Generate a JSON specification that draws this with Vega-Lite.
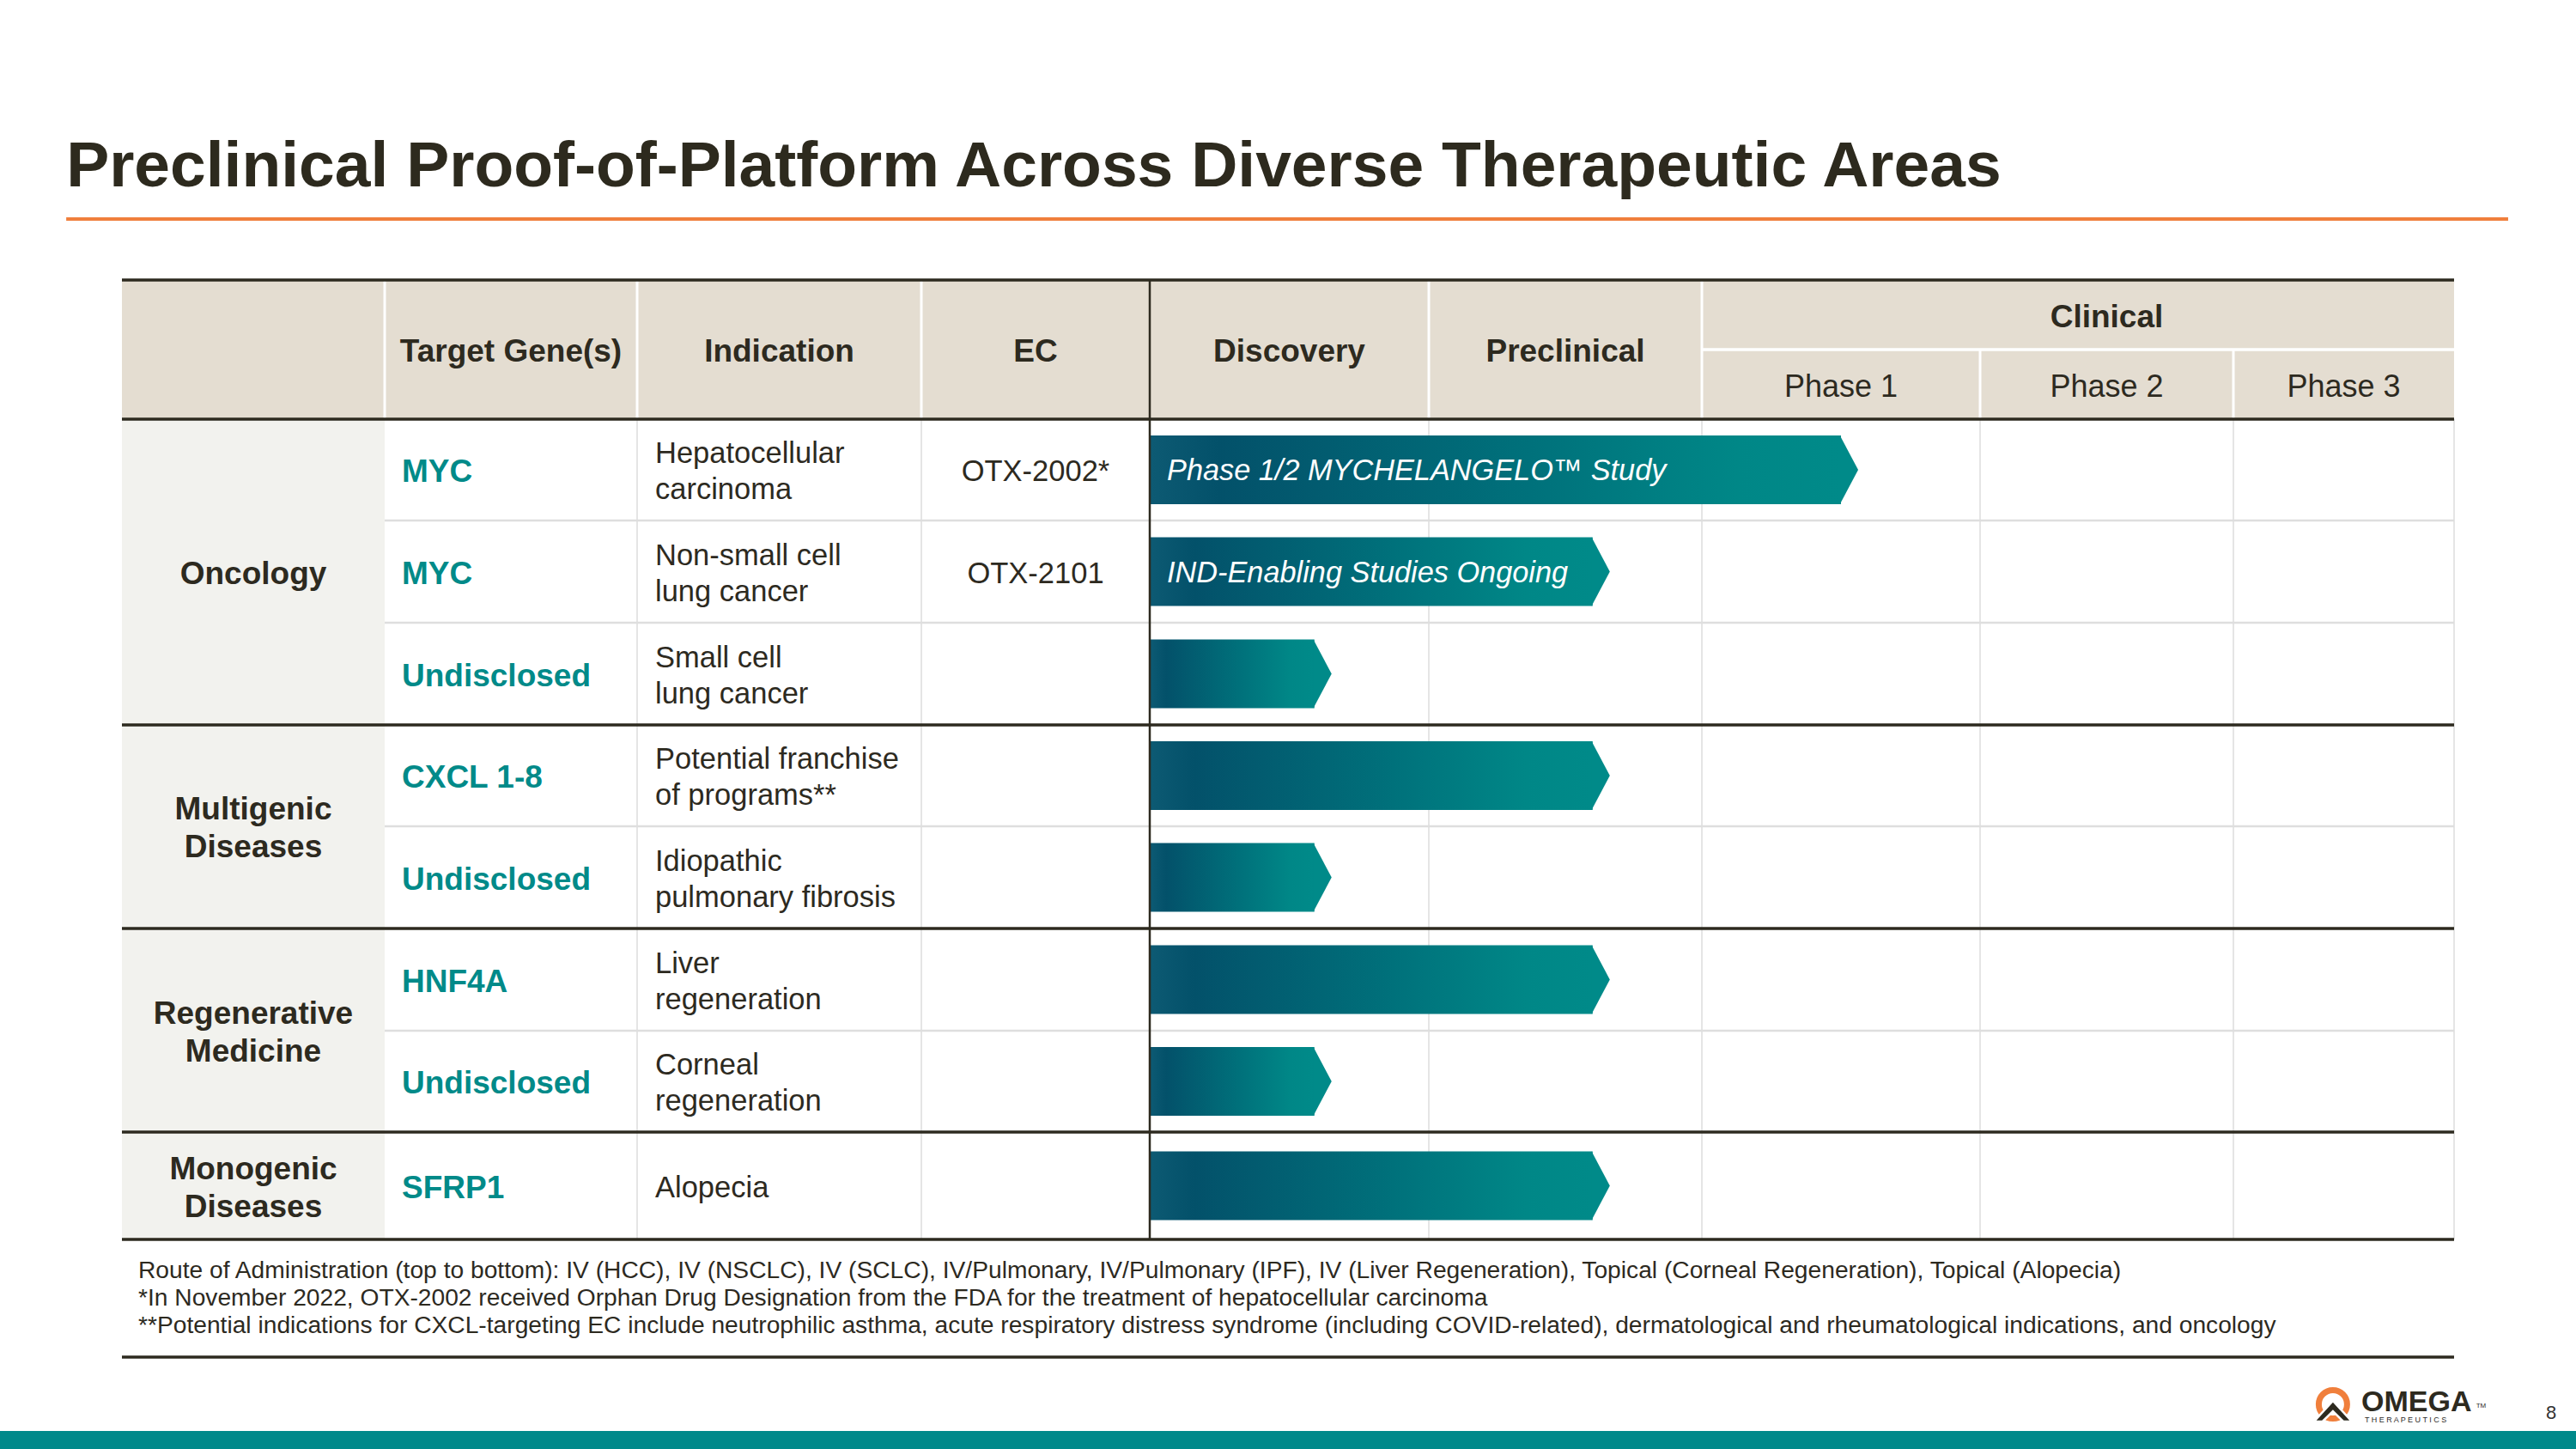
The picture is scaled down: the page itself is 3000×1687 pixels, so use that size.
{
  "$schema": "https://vega.github.io/schema/vega-lite/v6.json",
  "width": 3000,
  "height": 1687,
  "autosize": {"type": "none"},
  "padding": 0,
  "background": "#ffffff",
  "config": {"view": {"stroke": null}, "font": "Liberation Sans"},
  "datasets": {
    "programs": [
      {"row": 1, "gene": "MYC", "indication": "Hepatocellular\ncarcinoma", "ec": "OTX-2002*", "start": 0, "progress": 2.5, "status": "Phase 1/2 MYCHELANGELO™ Study"},
      {"row": 2, "gene": "MYC", "indication": "Non-small cell\nlung cancer", "ec": "OTX-2101", "start": 0, "progress": 1.6, "status": "IND-Enabling Studies Ongoing"},
      {"row": 3, "gene": "Undisclosed", "indication": "Small cell\nlung cancer", "ec": "", "start": 0, "progress": 0.59, "status": ""},
      {"row": 4, "gene": "CXCL 1-8", "indication": "Potential franchise\nof programs**", "ec": "", "start": 0, "progress": 1.6, "status": ""},
      {"row": 5, "gene": "Undisclosed", "indication": "Idiopathic\npulmonary fibrosis", "ec": "", "start": 0, "progress": 0.59, "status": ""},
      {"row": 6, "gene": "HNF4A", "indication": "Liver\nregeneration", "ec": "", "start": 0, "progress": 1.6, "status": ""},
      {"row": 7, "gene": "Undisclosed", "indication": "Corneal\nregeneration", "ec": "", "start": 0, "progress": 0.59, "status": ""},
      {"row": 8, "gene": "SFRP1", "indication": "Alopecia", "ec": "", "start": 0, "progress": 1.6, "status": ""}
    ],
    "areas": [
      {"area": "Oncology", "c": -3.5, "center": 2},
      {"area": "Multigenic\nDiseases", "c": -3.5, "center": 4.5},
      {"area": "Regenerative\nMedicine", "c": -3.5, "center": 6.5},
      {"area": "Monogenic\nDiseases", "c": -3.5, "center": 8}
    ],
    "headBold": [
      {"label": "Target Gene(s)", "c": -2.5, "r": 0},
      {"label": "Indication", "c": -1.5, "r": 0},
      {"label": "EC", "c": -0.5, "r": 0},
      {"label": "Discovery", "c": 0.5, "r": 0},
      {"label": "Preclinical", "c": 1.5, "r": 0},
      {"label": "Clinical", "c": 3.5, "r": -0.25}
    ],
    "headPhase": [
      {"label": "Phase 1", "c": 2.5, "r": 0.25},
      {"label": "Phase 2", "c": 3.5, "r": 0.25},
      {"label": "Phase 3", "c": 4.5, "r": 0.25}
    ],
    "headerBg": [{"c": -4, "c2": 5, "r": -0.5, "r2": 0.5}],
    "areaBg": [{"c": -4, "c2": -3, "r": 0.5, "r2": 8.5}],
    "lightV": [
      {"c": -2, "r": 0.5, "r2": 8.5}, {"c": -1, "r": 0.5, "r2": 8.5},
      {"c": 1, "r": 0.5, "r2": 8.5}, {"c": 2, "r": 0.5, "r2": 8.5},
      {"c": 3, "r": 0.5, "r2": 8.5}, {"c": 4, "r": 0.5, "r2": 8.5},
      {"c": 5, "r": 0.5, "r2": 8.5}
    ],
    "lightH": [
      {"r": 1.5, "c": -3, "c2": 5}, {"r": 2.5, "c": -3, "c2": 5},
      {"r": 4.5, "c": -3, "c2": 5}, {"r": 6.5, "c": -3, "c2": 5}
    ],
    "whiteV": [
      {"c": -3, "r": -0.5, "r2": 0.5}, {"c": -2, "r": -0.5, "r2": 0.5},
      {"c": -1, "r": -0.5, "r2": 0.5}, {"c": 1, "r": -0.5, "r2": 0.5},
      {"c": 2, "r": -0.5, "r2": 0.5}, {"c": 3, "r": 0, "r2": 0.5},
      {"c": 4, "r": 0, "r2": 0.5}
    ],
    "whiteH": [{"r": 0, "c": 2, "c2": 5}],
    "darkH": [
      {"r": -0.5, "c": -4, "c2": 5}, {"r": 0.5, "c": -4, "c2": 5},
      {"r": 3.5, "c": -4, "c2": 5}, {"r": 5.5, "c": -4, "c2": 5},
      {"r": 7.5, "c": -4, "c2": 5}, {"r": 8.5, "c": -4, "c2": 5},
      {"r": 9.596, "c": -4, "c2": 5}
    ],
    "darkV": [{"c": 0, "r": -0.5, "r2": 8.5}],
    "title": [{"text": "Preclinical Proof-of-Platform Across Diverse Therapeutic Areas", "c": -4.212, "r": -1.173}],
    "titleRule": [{"c": -4.212, "c2": 5.245, "r": -0.938}],
    "notes": [
      {"text": "Route of Administration (top to bottom): IV (HCC), IV (NSCLC), IV (SCLC), IV/Pulmonary, IV/Pulmonary (IPF), IV (Liver Regeneration), Topical (Corneal Regeneration), Topical (Alopecia)", "c": -3.938, "r": 8.86},
      {"text": "*In November 2022, OTX-2002 received Orphan Drug Designation from the FDA for the treatment of hepatocellular carcinoma", "c": -3.938, "r": 9.116},
      {"text": "**Potential indications for CXCL-targeting EC include neutrophilic asthma, acute respiratory distress syndrome (including COVID-related), dermatological and rheumatological indications, and oncology", "c": -3.938, "r": 9.372}
    ],
    "footerBar": [{"c": -4.6, "c2": 5.7, "r": 10.284, "r2": 10.7}],
    "logoRing": [{"c": 4.451, "r": 10.036}],
    "logoMark": [{"c": 4.451, "r": 10.044}],
    "logoWord": [{"text": "OMEGA", "c": 4.58, "r": 10.1}],
    "logoSub": [{"text": "T  H  E  R  A  P  E  U  T  I  C  S", "c": 4.595, "r": 10.204}],
    "logoTm": [{"text": "TM", "c": 5.1, "r": 10.02}],
    "page": [{"text": "8", "c": 5.44, "r": 10.172}]
  },
  "layer": [
    {
      "data": {"name": "headerBg"},
      "mark": {"type": "rect", "fill": "#e4ddd1"},
      "encoding": {
        "x": {"field": "c", "type": "quantitative", "axis": null, "scale": {"domain": [-4,-3,-2,-1,0,1,2,3,4,5], "range": [142,448,742,1073,1339,1664,1982,2306,2601,2858], "nice": false, "zero": false}},
        "x2": {"field": "c2"},
        "y": {"field": "r", "type": "quantitative", "axis": null, "scale": {"domain": [-0.5,0.5,1.5,2.5,3.5,4.5,5.5,6.5,7.5,8.5], "range": [326,488,606,725,844,962,1081,1200,1318,1443], "nice": false, "zero": false}},
        "y2": {"field": "r2"}
      }
    },
    {
      "data": {"name": "areaBg"},
      "mark": {"type": "rect", "fill": "#f2f2ee"},
      "encoding": {
        "x": {"field": "c", "type": "quantitative", "axis": null, "scale": {"domain": [-4,-3,-2,-1,0,1,2,3,4,5], "range": [142,448,742,1073,1339,1664,1982,2306,2601,2858], "nice": false, "zero": false}},
        "x2": {"field": "c2"},
        "y": {"field": "r", "type": "quantitative", "axis": null, "scale": {"domain": [-0.5,0.5,1.5,2.5,3.5,4.5,5.5,6.5,7.5,8.5], "range": [326,488,606,725,844,962,1081,1200,1318,1443], "nice": false, "zero": false}},
        "y2": {"field": "r2"}
      }
    },
    {
      "data": {"name": "lightV"},
      "mark": {"type": "rule", "stroke": "#dcdcdc", "strokeWidth": 1.5},
      "encoding": {
        "x": {"field": "c", "type": "quantitative", "axis": null, "scale": {"domain": [-4,-3,-2,-1,0,1,2,3,4,5], "range": [142,448,742,1073,1339,1664,1982,2306,2601,2858], "nice": false, "zero": false}},
        "y": {"field": "r", "type": "quantitative", "axis": null, "scale": {"domain": [-0.5,0.5,1.5,2.5,3.5,4.5,5.5,6.5,7.5,8.5], "range": [326,488,606,725,844,962,1081,1200,1318,1443], "nice": false, "zero": false}},
        "y2": {"field": "r2"}
      }
    },
    {
      "data": {"name": "lightH"},
      "mark": {"type": "rule", "stroke": "#dedede", "strokeWidth": 2.5},
      "encoding": {
        "x": {"field": "c", "type": "quantitative", "axis": null, "scale": {"domain": [-4,-3,-2,-1,0,1,2,3,4,5], "range": [142,448,742,1073,1339,1664,1982,2306,2601,2858], "nice": false, "zero": false}},
        "x2": {"field": "c2"},
        "y": {"field": "r", "type": "quantitative", "axis": null, "scale": {"domain": [-0.5,0.5,1.5,2.5,3.5,4.5,5.5,6.5,7.5,8.5], "range": [326,488,606,725,844,962,1081,1200,1318,1443], "nice": false, "zero": false}}
      }
    },
    {
      "data": {"name": "whiteV"},
      "mark": {"type": "rule", "stroke": "#ffffff", "strokeWidth": 3},
      "encoding": {
        "x": {"field": "c", "type": "quantitative", "axis": null, "scale": {"domain": [-4,-3,-2,-1,0,1,2,3,4,5], "range": [142,448,742,1073,1339,1664,1982,2306,2601,2858], "nice": false, "zero": false}},
        "y": {"field": "r", "type": "quantitative", "axis": null, "scale": {"domain": [-0.5,0.5,1.5,2.5,3.5,4.5,5.5,6.5,7.5,8.5], "range": [326,488,606,725,844,962,1081,1200,1318,1443], "nice": false, "zero": false}},
        "y2": {"field": "r2"}
      }
    },
    {
      "data": {"name": "whiteH"},
      "mark": {"type": "rule", "stroke": "#ffffff", "strokeWidth": 3.5},
      "encoding": {
        "x": {"field": "c", "type": "quantitative", "axis": null, "scale": {"domain": [-4,-3,-2,-1,0,1,2,3,4,5], "range": [142,448,742,1073,1339,1664,1982,2306,2601,2858], "nice": false, "zero": false}},
        "x2": {"field": "c2"},
        "y": {"field": "r", "type": "quantitative", "axis": null, "scale": {"domain": [-0.5,0.5,1.5,2.5,3.5,4.5,5.5,6.5,7.5,8.5], "range": [326,488,606,725,844,962,1081,1200,1318,1443], "nice": false, "zero": false}}
      }
    },
    {
      "data": {"name": "programs"},
      "mark": {"type": "rect", "yOffset": -40, "y2Offset": 40, "fill": {"gradient": "linear", "x1": 0, "y1": 0, "x2": 1, "y2": 0, "stops": [{"offset": 0, "color": "#0d5a73"}, {"offset": 0.1, "color": "#03516a"}, {"offset": 0.55, "color": "#00717b"}, {"offset": 0.85, "color": "#008787"}, {"offset": 1, "color": "#008a89"}]}},
      "encoding": {
        "x": {"field": "start", "type": "quantitative", "axis": null, "scale": {"domain": [-4,-3,-2,-1,0,1,2,3,4,5], "range": [142,448,742,1073,1339,1664,1982,2306,2601,2858], "nice": false, "zero": false}},
        "x2": {"field": "progress"},
        "y": {"field": "row", "type": "quantitative", "axis": null, "scale": {"domain": [-0.5,0.5,1.5,2.5,3.5,4.5,5.5,6.5,7.5,8.5], "range": [326,488,606,725,844,962,1081,1200,1318,1443], "nice": false, "zero": false}},
        "y2": {"field": "row"}
      }
    },
    {
      "data": {"name": "programs"},
      "mark": {"type": "point", "shape": "M-0.03,-1L0.5,0L-0.03,1Z", "size": 6400, "filled": true, "fill": "#008a89", "opacity": 1, "strokeWidth": 0},
      "encoding": {
        "x": {"field": "progress", "type": "quantitative", "axis": null, "scale": {"domain": [-4,-3,-2,-1,0,1,2,3,4,5], "range": [142,448,742,1073,1339,1664,1982,2306,2601,2858], "nice": false, "zero": false}},
        "y": {"field": "row", "type": "quantitative", "axis": null, "scale": {"domain": [-0.5,0.5,1.5,2.5,3.5,4.5,5.5,6.5,7.5,8.5], "range": [326,488,606,725,844,962,1081,1200,1318,1443], "nice": false, "zero": false}}
      }
    },
    {
      "data": {"name": "darkH"},
      "mark": {"type": "rule", "stroke": "#2d2a1f", "strokeWidth": 3.5},
      "encoding": {
        "x": {"field": "c", "type": "quantitative", "axis": null, "scale": {"domain": [-4,-3,-2,-1,0,1,2,3,4,5], "range": [142,448,742,1073,1339,1664,1982,2306,2601,2858], "nice": false, "zero": false}},
        "x2": {"field": "c2"},
        "y": {"field": "r", "type": "quantitative", "axis": null, "scale": {"domain": [-0.5,0.5,1.5,2.5,3.5,4.5,5.5,6.5,7.5,8.5], "range": [326,488,606,725,844,962,1081,1200,1318,1443], "nice": false, "zero": false}}
      }
    },
    {
      "data": {"name": "darkV"},
      "mark": {"type": "rule", "stroke": "#2d2a1f", "strokeWidth": 2.5},
      "encoding": {
        "x": {"field": "c", "type": "quantitative", "axis": null, "scale": {"domain": [-4,-3,-2,-1,0,1,2,3,4,5], "range": [142,448,742,1073,1339,1664,1982,2306,2601,2858], "nice": false, "zero": false}},
        "y": {"field": "r", "type": "quantitative", "axis": null, "scale": {"domain": [-0.5,0.5,1.5,2.5,3.5,4.5,5.5,6.5,7.5,8.5], "range": [326,488,606,725,844,962,1081,1200,1318,1443], "nice": false, "zero": false}},
        "y2": {"field": "r2"}
      }
    },
    {
      "data": {"name": "areas"},
      "transform": [{"filter": "indexof(datum.area, '\\n') < 0"}],
      "mark": {"type": "text", "font": "Liberation Sans", "fontWeight": "bold", "fontSize": 37, "color": "#2d2a1f", "align": "center", "baseline": "middle", "dy": 3},
      "encoding": {
        "x": {"field": "c", "type": "quantitative", "axis": null, "scale": {"domain": [-4,-3,-2,-1,0,1,2,3,4,5], "range": [142,448,742,1073,1339,1664,1982,2306,2601,2858], "nice": false, "zero": false}},
        "y": {"field": "center", "type": "quantitative", "axis": null, "scale": {"domain": [-0.5,0.5,1.5,2.5,3.5,4.5,5.5,6.5,7.5,8.5], "range": [326,488,606,725,844,962,1081,1200,1318,1443], "nice": false, "zero": false}},
        "text": {"field": "area", "type": "nominal"}
      }
    },
    {
      "data": {"name": "areas"},
      "transform": [{"filter": "indexof(datum.area, '\\n') >= 0"}],
      "mark": {"type": "text", "font": "Liberation Sans", "fontWeight": "bold", "fontSize": 37, "color": "#2d2a1f", "align": "center", "baseline": "middle", "lineBreak": "\n", "lineHeight": 44, "dy": -19},
      "encoding": {
        "x": {"field": "c", "type": "quantitative", "axis": null, "scale": {"domain": [-4,-3,-2,-1,0,1,2,3,4,5], "range": [142,448,742,1073,1339,1664,1982,2306,2601,2858], "nice": false, "zero": false}},
        "y": {"field": "center", "type": "quantitative", "axis": null, "scale": {"domain": [-0.5,0.5,1.5,2.5,3.5,4.5,5.5,6.5,7.5,8.5], "range": [326,488,606,725,844,962,1081,1200,1318,1443], "nice": false, "zero": false}},
        "text": {"field": "area", "type": "nominal"}
      }
    },
    {
      "data": {"name": "programs"},
      "transform": [{"calculate": "-3", "as": "geneCol"}],
      "mark": {"type": "text", "font": "Liberation Sans", "fontWeight": "bold", "fontSize": 37, "color": "#008a89", "align": "left", "baseline": "middle", "dx": 20, "dy": 3},
      "encoding": {
        "x": {"field": "geneCol", "type": "quantitative", "axis": null, "scale": {"domain": [-4,-3,-2,-1,0,1,2,3,4,5], "range": [142,448,742,1073,1339,1664,1982,2306,2601,2858], "nice": false, "zero": false}},
        "y": {"field": "row", "type": "quantitative", "axis": null, "scale": {"domain": [-0.5,0.5,1.5,2.5,3.5,4.5,5.5,6.5,7.5,8.5], "range": [326,488,606,725,844,962,1081,1200,1318,1443], "nice": false, "zero": false}},
        "text": {"field": "gene", "type": "nominal"}
      }
    },
    {
      "data": {"name": "programs"},
      "transform": [{"filter": "indexof(datum.indication, '\\n') >= 0"}, {"calculate": "-2", "as": "indCol"}],
      "mark": {"type": "text", "font": "Liberation Sans", "fontSize": 34.5, "color": "#2d2a1f", "align": "left", "baseline": "middle", "dx": 21, "dy": -18, "lineBreak": "\n", "lineHeight": 42},
      "encoding": {
        "x": {"field": "indCol", "type": "quantitative", "axis": null, "scale": {"domain": [-4,-3,-2,-1,0,1,2,3,4,5], "range": [142,448,742,1073,1339,1664,1982,2306,2601,2858], "nice": false, "zero": false}},
        "y": {"field": "row", "type": "quantitative", "axis": null, "scale": {"domain": [-0.5,0.5,1.5,2.5,3.5,4.5,5.5,6.5,7.5,8.5], "range": [326,488,606,725,844,962,1081,1200,1318,1443], "nice": false, "zero": false}},
        "text": {"field": "indication", "type": "nominal"}
      }
    },
    {
      "data": {"name": "programs"},
      "transform": [{"filter": "indexof(datum.indication, '\\n') < 0"}, {"calculate": "-2", "as": "indCol"}],
      "mark": {"type": "text", "font": "Liberation Sans", "fontSize": 34.5, "color": "#2d2a1f", "align": "left", "baseline": "middle", "dx": 21, "dy": 3},
      "encoding": {
        "x": {"field": "indCol", "type": "quantitative", "axis": null, "scale": {"domain": [-4,-3,-2,-1,0,1,2,3,4,5], "range": [142,448,742,1073,1339,1664,1982,2306,2601,2858], "nice": false, "zero": false}},
        "y": {"field": "row", "type": "quantitative", "axis": null, "scale": {"domain": [-0.5,0.5,1.5,2.5,3.5,4.5,5.5,6.5,7.5,8.5], "range": [326,488,606,725,844,962,1081,1200,1318,1443], "nice": false, "zero": false}},
        "text": {"field": "indication", "type": "nominal"}
      }
    },
    {
      "data": {"name": "programs"},
      "transform": [{"calculate": "-0.5", "as": "ecCol"}],
      "mark": {"type": "text", "font": "Liberation Sans", "fontSize": 34.5, "color": "#2d2a1f", "align": "center", "baseline": "middle", "dy": 3},
      "encoding": {
        "x": {"field": "ecCol", "type": "quantitative", "axis": null, "scale": {"domain": [-4,-3,-2,-1,0,1,2,3,4,5], "range": [142,448,742,1073,1339,1664,1982,2306,2601,2858], "nice": false, "zero": false}},
        "y": {"field": "row", "type": "quantitative", "axis": null, "scale": {"domain": [-0.5,0.5,1.5,2.5,3.5,4.5,5.5,6.5,7.5,8.5], "range": [326,488,606,725,844,962,1081,1200,1318,1443], "nice": false, "zero": false}},
        "text": {"field": "ec", "type": "nominal"}
      }
    },
    {
      "data": {"name": "programs"},
      "mark": {"type": "text", "font": "Liberation Sans", "fontStyle": "italic", "fontSize": 34.3, "color": "#ffffff", "align": "left", "baseline": "middle", "dx": 20, "dy": 2},
      "encoding": {
        "x": {"field": "start", "type": "quantitative", "axis": null, "scale": {"domain": [-4,-3,-2,-1,0,1,2,3,4,5], "range": [142,448,742,1073,1339,1664,1982,2306,2601,2858], "nice": false, "zero": false}},
        "y": {"field": "row", "type": "quantitative", "axis": null, "scale": {"domain": [-0.5,0.5,1.5,2.5,3.5,4.5,5.5,6.5,7.5,8.5], "range": [326,488,606,725,844,962,1081,1200,1318,1443], "nice": false, "zero": false}},
        "text": {"field": "status", "type": "nominal"}
      }
    },
    {
      "data": {"name": "headBold"},
      "mark": {"type": "text", "font": "Liberation Sans", "fontWeight": "bold", "fontSize": 37, "color": "#2d2a1f", "align": "center", "baseline": "middle", "dy": 3},
      "encoding": {
        "x": {"field": "c", "type": "quantitative", "axis": null, "scale": {"domain": [-4,-3,-2,-1,0,1,2,3,4,5], "range": [142,448,742,1073,1339,1664,1982,2306,2601,2858], "nice": false, "zero": false}},
        "y": {"field": "r", "type": "quantitative", "axis": null, "scale": {"domain": [-0.5,0.5,1.5,2.5,3.5,4.5,5.5,6.5,7.5,8.5], "range": [326,488,606,725,844,962,1081,1200,1318,1443], "nice": false, "zero": false}},
        "text": {"field": "label", "type": "nominal"}
      }
    },
    {
      "data": {"name": "headPhase"},
      "mark": {"type": "text", "font": "Liberation Sans", "fontSize": 36, "color": "#2d2a1f", "align": "center", "baseline": "middle", "dy": 3},
      "encoding": {
        "x": {"field": "c", "type": "quantitative", "axis": null, "scale": {"domain": [-4,-3,-2,-1,0,1,2,3,4,5], "range": [142,448,742,1073,1339,1664,1982,2306,2601,2858], "nice": false, "zero": false}},
        "y": {"field": "r", "type": "quantitative", "axis": null, "scale": {"domain": [-0.5,0.5,1.5,2.5,3.5,4.5,5.5,6.5,7.5,8.5], "range": [326,488,606,725,844,962,1081,1200,1318,1443], "nice": false, "zero": false}},
        "text": {"field": "label", "type": "nominal"}
      }
    },
    {
      "data": {"name": "title"},
      "mark": {"type": "text", "font": "Liberation Sans", "fontWeight": "bold", "fontSize": 75, "color": "#2d2a1e", "align": "left", "baseline": "alphabetic"},
      "encoding": {
        "x": {"field": "c", "type": "quantitative", "axis": null, "scale": {"domain": [-4,-3,-2,-1,0,1,2,3,4,5], "range": [142,448,742,1073,1339,1664,1982,2306,2601,2858], "nice": false, "zero": false}},
        "y": {"field": "r", "type": "quantitative", "axis": null, "scale": {"domain": [-0.5,0.5,1.5,2.5,3.5,4.5,5.5,6.5,7.5,8.5], "range": [326,488,606,725,844,962,1081,1200,1318,1443], "nice": false, "zero": false}},
        "text": {"field": "text", "type": "nominal"}
      }
    },
    {
      "data": {"name": "titleRule"},
      "mark": {"type": "rule", "stroke": "#f07f3c", "strokeWidth": 4},
      "encoding": {
        "x": {"field": "c", "type": "quantitative", "axis": null, "scale": {"domain": [-4,-3,-2,-1,0,1,2,3,4,5], "range": [142,448,742,1073,1339,1664,1982,2306,2601,2858], "nice": false, "zero": false}},
        "x2": {"field": "c2"},
        "y": {"field": "r", "type": "quantitative", "axis": null, "scale": {"domain": [-0.5,0.5,1.5,2.5,3.5,4.5,5.5,6.5,7.5,8.5], "range": [326,488,606,725,844,962,1081,1200,1318,1443], "nice": false, "zero": false}}
      }
    },
    {
      "data": {"name": "notes"},
      "mark": {"type": "text", "font": "Liberation Sans", "fontSize": 28.2, "color": "#2d2a1f", "align": "left", "baseline": "alphabetic"},
      "encoding": {
        "x": {"field": "c", "type": "quantitative", "axis": null, "scale": {"domain": [-4,-3,-2,-1,0,1,2,3,4,5], "range": [142,448,742,1073,1339,1664,1982,2306,2601,2858], "nice": false, "zero": false}},
        "y": {"field": "r", "type": "quantitative", "axis": null, "scale": {"domain": [-0.5,0.5,1.5,2.5,3.5,4.5,5.5,6.5,7.5,8.5], "range": [326,488,606,725,844,962,1081,1200,1318,1443], "nice": false, "zero": false}},
        "text": {"field": "text", "type": "nominal"}
      }
    },
    {
      "data": {"name": "footerBar"},
      "mark": {"type": "rect", "fill": "#00898a"},
      "encoding": {
        "x": {"field": "c", "type": "quantitative", "axis": null, "scale": {"domain": [-4,-3,-2,-1,0,1,2,3,4,5], "range": [142,448,742,1073,1339,1664,1982,2306,2601,2858], "nice": false, "zero": false}},
        "x2": {"field": "c2"},
        "y": {"field": "r", "type": "quantitative", "axis": null, "scale": {"domain": [-0.5,0.5,1.5,2.5,3.5,4.5,5.5,6.5,7.5,8.5], "range": [326,488,606,725,844,962,1081,1200,1318,1443], "nice": false, "zero": false}},
        "y2": {"field": "r2"}
      }
    },
    {
      "data": {"name": "logoRing"},
      "mark": {"type": "point", "shape": "circle", "size": 1089, "filled": false, "stroke": "#f07f3c", "strokeWidth": 7, "opacity": 1},
      "encoding": {
        "x": {"field": "c", "type": "quantitative", "axis": null, "scale": {"domain": [-4,-3,-2,-1,0,1,2,3,4,5], "range": [142,448,742,1073,1339,1664,1982,2306,2601,2858], "nice": false, "zero": false}},
        "y": {"field": "r", "type": "quantitative", "axis": null, "scale": {"domain": [-0.5,0.5,1.5,2.5,3.5,4.5,5.5,6.5,7.5,8.5], "range": [326,488,606,725,844,962,1081,1200,1318,1443], "nice": false, "zero": false}}
      }
    },
    {
      "data": {"name": "logoMark"},
      "mark": {"type": "point", "shape": "M0,-0.23L1,0.86L0.55,0.86L0,0.32L-0.55,0.86L-1,0.86Z", "size": 1936, "filled": true, "fill": "#2d2a1f", "stroke": "#ffffff", "strokeWidth": 2.5, "opacity": 1},
      "encoding": {
        "x": {"field": "c", "type": "quantitative", "axis": null, "scale": {"domain": [-4,-3,-2,-1,0,1,2,3,4,5], "range": [142,448,742,1073,1339,1664,1982,2306,2601,2858], "nice": false, "zero": false}},
        "y": {"field": "r", "type": "quantitative", "axis": null, "scale": {"domain": [-0.5,0.5,1.5,2.5,3.5,4.5,5.5,6.5,7.5,8.5], "range": [326,488,606,725,844,962,1081,1200,1318,1443], "nice": false, "zero": false}}
      }
    },
    {
      "data": {"name": "logoWord"},
      "mark": {"type": "text", "font": "Liberation Sans", "fontWeight": "bold", "fontSize": 34, "color": "#2d2a1f", "align": "left", "baseline": "alphabetic"},
      "encoding": {
        "x": {"field": "c", "type": "quantitative", "axis": null, "scale": {"domain": [-4,-3,-2,-1,0,1,2,3,4,5], "range": [142,448,742,1073,1339,1664,1982,2306,2601,2858], "nice": false, "zero": false}},
        "y": {"field": "r", "type": "quantitative", "axis": null, "scale": {"domain": [-0.5,0.5,1.5,2.5,3.5,4.5,5.5,6.5,7.5,8.5], "range": [326,488,606,725,844,962,1081,1200,1318,1443], "nice": false, "zero": false}},
        "text": {"field": "text", "type": "nominal"}
      }
    },
    {
      "data": {"name": "logoSub"},
      "mark": {"type": "text", "font": "Liberation Sans", "fontSize": 9, "color": "#2d2a1f", "align": "left", "baseline": "alphabetic"},
      "encoding": {
        "x": {"field": "c", "type": "quantitative", "axis": null, "scale": {"domain": [-4,-3,-2,-1,0,1,2,3,4,5], "range": [142,448,742,1073,1339,1664,1982,2306,2601,2858], "nice": false, "zero": false}},
        "y": {"field": "r", "type": "quantitative", "axis": null, "scale": {"domain": [-0.5,0.5,1.5,2.5,3.5,4.5,5.5,6.5,7.5,8.5], "range": [326,488,606,725,844,962,1081,1200,1318,1443], "nice": false, "zero": false}},
        "text": {"field": "text", "type": "nominal"}
      }
    },
    {
      "data": {"name": "logoTm"},
      "mark": {"type": "text", "font": "Liberation Sans", "fontSize": 8, "color": "#2d2a1f", "align": "left", "baseline": "top"},
      "encoding": {
        "x": {"field": "c", "type": "quantitative", "axis": null, "scale": {"domain": [-4,-3,-2,-1,0,1,2,3,4,5], "range": [142,448,742,1073,1339,1664,1982,2306,2601,2858], "nice": false, "zero": false}},
        "y": {"field": "r", "type": "quantitative", "axis": null, "scale": {"domain": [-0.5,0.5,1.5,2.5,3.5,4.5,5.5,6.5,7.5,8.5], "range": [326,488,606,725,844,962,1081,1200,1318,1443], "nice": false, "zero": false}},
        "text": {"field": "text", "type": "nominal"}
      }
    },
    {
      "data": {"name": "page"},
      "mark": {"type": "text", "font": "Liberation Sans", "fontSize": 22, "color": "#333333", "align": "center", "baseline": "alphabetic"},
      "encoding": {
        "x": {"field": "c", "type": "quantitative", "axis": null, "scale": {"domain": [-4,-3,-2,-1,0,1,2,3,4,5], "range": [142,448,742,1073,1339,1664,1982,2306,2601,2858], "nice": false, "zero": false}},
        "y": {"field": "r", "type": "quantitative", "axis": null, "scale": {"domain": [-0.5,0.5,1.5,2.5,3.5,4.5,5.5,6.5,7.5,8.5], "range": [326,488,606,725,844,962,1081,1200,1318,1443], "nice": false, "zero": false}},
        "text": {"field": "text", "type": "nominal"}
      }
    }
  ]
}
